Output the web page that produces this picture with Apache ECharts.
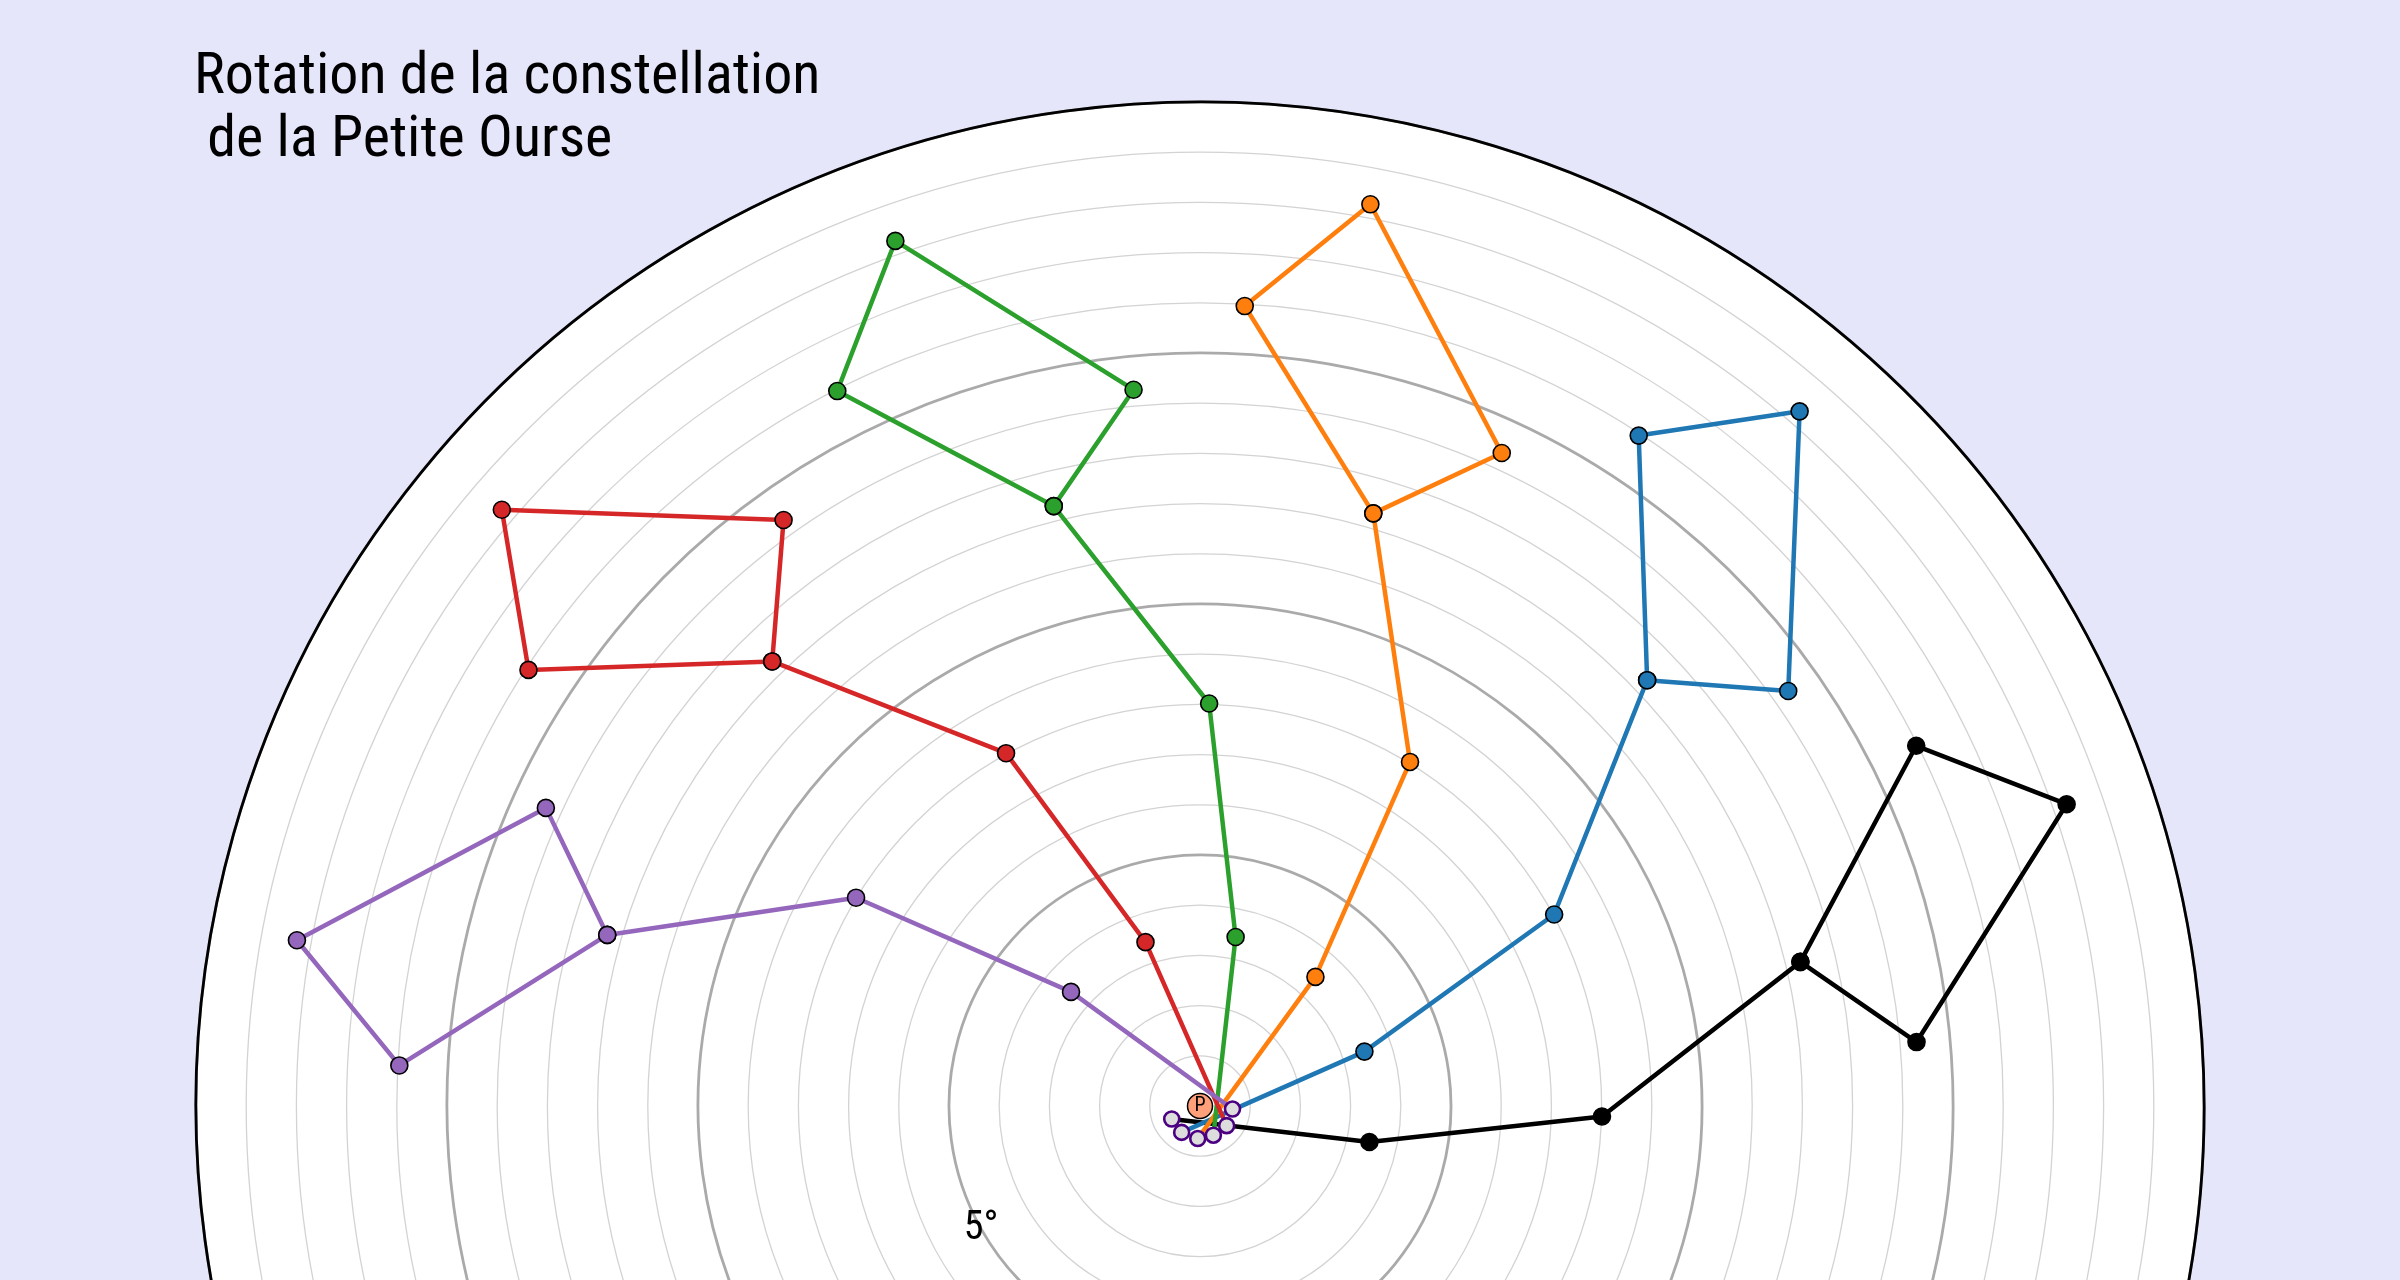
<!DOCTYPE html>
<html>
<head>
<meta charset="utf-8">
<script src="https://cdn.jsdelivr.net/npm/echarts@6/dist/echarts.min.js"></script>
<style>
html,body{margin:0;padding:0;background:#E6E6FA;}
#chart{width:2400px;height:1280px;}
</style>
</head>
<body>
<div id="chart"></div>
<script>
// ---------- texts ----------
const titleText = 'Rotation de la constellation\n de la Petite Ourse';
const poleLabel = 'P';
const radiusTickSuffix = '°';

// ---------- axis ----------
const radiusMin = 0;
const radiusMax = 20;       // degrees from the celestial pole
const radiusMajorStep = 5;  // labelled / darker circles
const radiusMinorSplit = 5; // 1° thin circles

// star order along each drawn line: Polaris, δ, ε, ζ, η, γ, β, back to ζ
const starNames = ['Polaris', 'δ UMi', 'ε UMi', 'ζ UMi', 'η UMi', 'γ UMi', 'β UMi', 'ζ UMi'];

// ---------- data (radius in degrees, angle in degrees counter-clockwise from east) ----------
const blackRadius  = [0.62, 3.45, 8.01, 12.30, 14.33, 18.28, 15.97, 12.30];
const blackAngle   = [204.7, 348.0, 358.5, 13.5, 5.1, 19.2, 26.7, 13.5];
const blueRadius   = [0.64, 3.45, 8.02, 12.30, 14.34, 18.28, 15.96, 12.30];
const blueAngle    = [235.2, 18.3, 28.4, 43.6, 35.2, 49.2, 56.8, 43.6];
const orangeRadius = [0.65, 3.45, 8.03, 12.30, 14.33, 18.28, 15.96, 12.30];
const orangeAngle  = [266.0, 48.2, 58.6, 73.7, 65.2, 79.3, 86.8, 73.7];
const greenRadius  = [0.64, 3.44, 8.02, 12.30, 14.33, 18.27, 15.97, 12.30];
const greenAngle   = [294.6, 78.1, 88.7, 103.7, 95.3, 109.4, 116.9, 103.7];
const redRadius    = [0.66, 3.44, 8.02, 12.29, 14.32, 18.29, 15.95, 12.29];
const redAngle     = [323.6, 108.4, 118.8, 133.9, 125.4, 139.5, 147.0, 133.9];
const purpleRadius = [0.65, 3.43, 8.01, 12.29, 14.32, 18.29, 15.97, 12.29];
const purpleAngle  = [354.7, 138.5, 148.8, 163.9, 155.5, 169.6, 177.1, 163.9];

const poleRadius = [0];
const poleAngle = [0];

// ---------- build ----------
const FONT = '"Roboto Condensed", "Liberation Sans Narrow", "DejaVu Sans Condensed", Roboto, sans-serif';

const groups = [
  { r: blackRadius,  a: blackAngle,  color: '#000000' },
  { r: blueRadius,   a: blueAngle,   color: '#1f77b4' },
  { r: orangeRadius, a: orangeAngle, color: '#ff7f0e' },
  { r: greenRadius,  a: greenAngle,  color: '#2ca02c' },
  { r: redRadius,    a: redAngle,    color: '#d62728' },
  { r: purpleRadius, a: purpleAngle, color: '#9467bd' }
];

const series = [];
groups.forEach((g) => {
  const data = g.r.map((rv, i) => {
    const item = { name: starNames[i], value: [rv, g.a[i]] };
    if (i === 0) item.symbol = 'none';
    return item;
  });
  series.push({
    type: 'line',
    coordinateSystem: 'polar',
    polarIndex: 1,
    data: data,
    symbol: 'circle',
    symbolSize: 17,
    showAllSymbol: true,
    lineStyle: { color: g.color, width: 4.5 },
    itemStyle: { color: g.color, borderColor: '#000', borderWidth: 1.6 },
    z: 2,
    animation: false,
    silent: true
  });
});
// Polaris positions
series.push({
  type: 'scatter',
  coordinateSystem: 'polar',
  polarIndex: 1,
  data: groups.map(g => [g.r[0], g.a[0]]),
  symbol: 'circle',
  symbolSize: 15,
  itemStyle: { color: '#dddddd', borderColor: '#4B0082', borderWidth: 2.6, opacity: 1 },
  z: 3,
  animation: false,
  silent: true
});
// celestial pole
series.push({
  type: 'scatter',
  coordinateSystem: 'polar',
  polarIndex: 1,
  data: poleRadius.map((rv, i) => [rv, poleAngle[i]]),
  symbol: 'circle',
  symbolSize: 25,
  itemStyle: { color: '#FFA07A', borderColor: '#000', borderWidth: 1.5, opacity: 1 },
  label: { show: true, position: 'inside', formatter: poleLabel, color: '#000', fontSize: 20, fontFamily: FONT },
  z: 4,
  animation: false,
  silent: true
});

const chart = echarts.init(document.getElementById('chart'), null, { renderer: 'canvas' });
chart.setOption({
  backgroundColor: '#E6E6FA',
  animation: false,
  title: {
    text: titleText,
    left: 194,
    top: 47,
    padding: 0,
    textStyle: { fontFamily: FONT, fontSize: 58, fontWeight: 'normal', color: '#000', lineHeight: 63 }
  },
  polar: [
    { center: [1200, 1106], radius: 1004 },
    { center: [1200, 1106], radius: 1004 }
  ],
  angleAxis: [
    {
      polarIndex: 0, type: 'value', min: 0, max: 360, startAngle: 209.3, clockwise: false, z: 3,
      axisLine: { show: true, lineStyle: { color: '#000', width: 2.8 } },
      axisTick: { show: false }, axisLabel: { show: false }, splitLine: { show: false }
    },
    {
      polarIndex: 1, type: 'value', min: 0, max: 360, startAngle: 0, clockwise: false,
      axisLine: { show: false }, axisTick: { show: false }, axisLabel: { show: false }, splitLine: { show: false }
    }
  ],
  radiusAxis: [
    {
      polarIndex: 0, type: 'value', min: radiusMin, max: radiusMax, interval: radiusMajorStep, z: 1,
      axisLine: { show: false }, axisTick: { show: false },
      minorTick: { show: false, splitNumber: radiusMinorSplit },
      axisLabel: {
        show: true, showMinLabel: false, margin: 0, align: 'center', verticalAlign: 'middle',
        formatter: v => v + radiusTickSuffix,
        fontFamily: FONT, fontSize: 40, color: '#000'
      },
      splitLine: { show: true, lineStyle: { color: '#aaaaaa', width: 2.8 } },
      minorSplitLine: { show: true, lineStyle: { color: '#d3d3d3', width: 1.3 } },
      splitArea: { show: false }
    },
    {
      polarIndex: 1, type: 'value', min: radiusMin, max: radiusMax, interval: radiusMajorStep, z: 0,
      axisLine: { show: false }, axisTick: { show: false }, axisLabel: { show: false }, splitLine: { show: false },
      splitArea: { show: true, areaStyle: { color: ['#ffffff'] } }
    }
  ],
  series: series
});
</script>
</body>
</html>
